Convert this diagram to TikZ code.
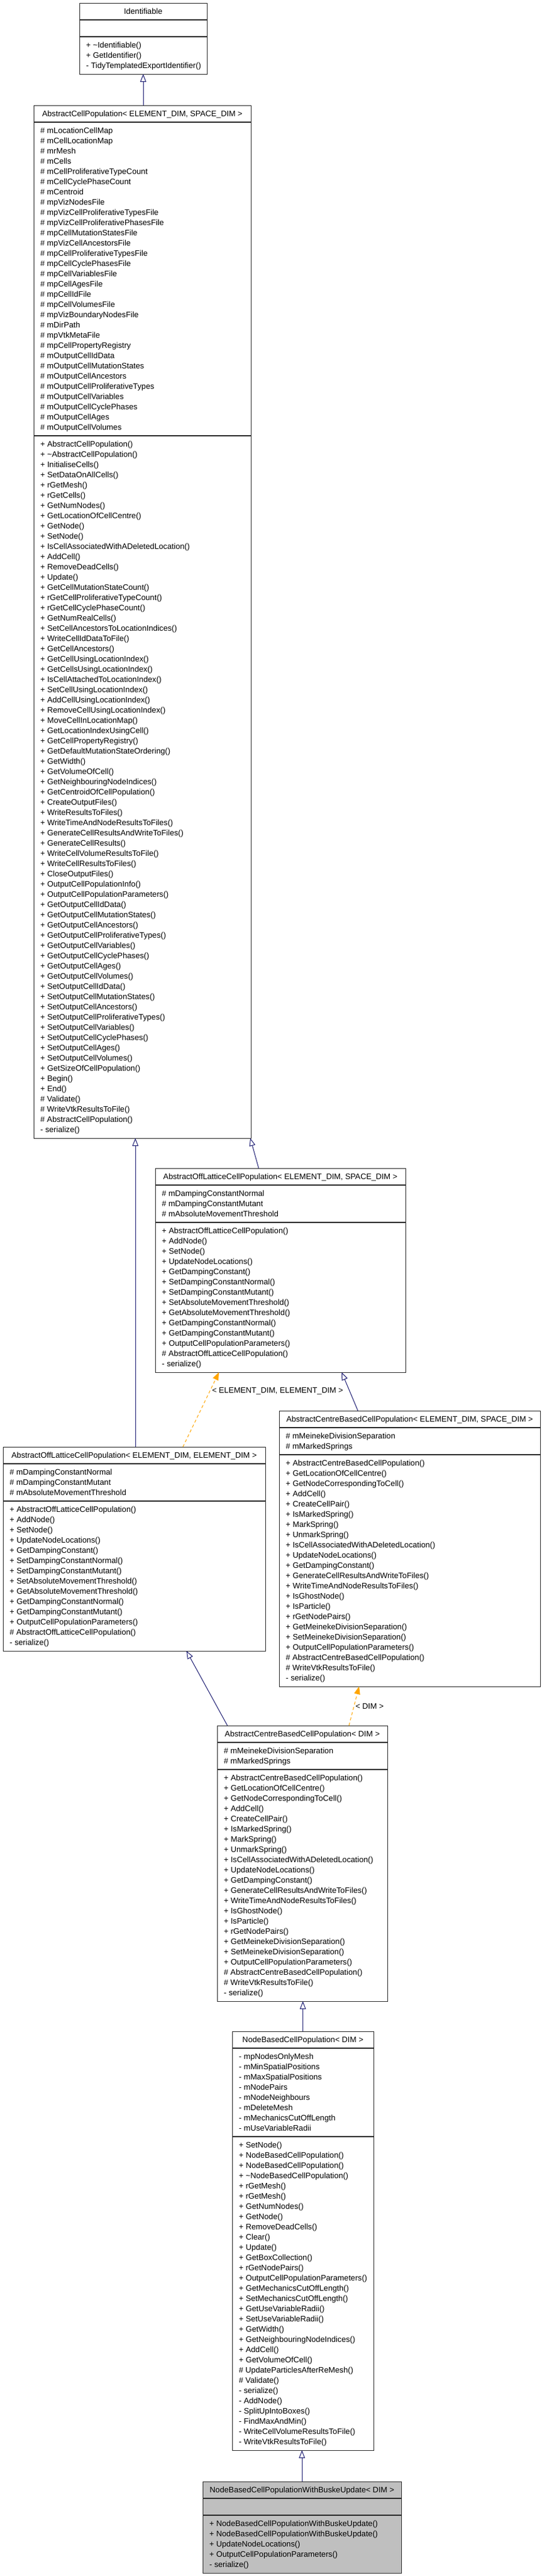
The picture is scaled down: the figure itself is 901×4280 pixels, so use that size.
\documentclass[tikz,border=0pt]{standalone}
\usepackage{fontspec}
\setmainfont{Liberation Sans}
\usetikzlibrary{arrows.meta,calc}
\definecolor{inhblue}{RGB}{25,25,112}
\definecolor{tmplorange}{RGB}{255,165,0}
\definecolor{buskegray}{RGB}{191,191,191}
\newcommand\ftxt{\fontsize{13.2}{17}\selectfont}
\tikzset{
  classbox/.style={draw=black!85, line width=1pt, fill=white, rectangle, inner sep=0pt, outer sep=0pt},
  sepline/.style={draw=black!85, line width=1.4pt},
  titletext/.style={font=\ftxt, inner sep=0pt, anchor=base},
  membertext/.style={font=\ftxt, inner sep=0pt, anchor=north west, align=left},
  inh/.style={draw=inhblue, line width=1pt, -{Triangle[open, length=13pt, width=10pt, fill=white]}},
  tmpl/.style={draw=tmplorange, line width=1pt, dash pattern=on 5pt off 4pt, -{Triangle[length=13pt, width=10pt, fill=tmplorange]}},
  edgelabel/.style={font=\ftxt, inner sep=1pt, text=black},
}
% #1 name, #2 x, #3 y, #4 width, #5 attribute lines, #6 method lines, #7 title, #8 attributes, #9 methods
\newcommand\umlclass[9]{%
  \pgfmathsetmacro\ucA{17*#5+11}%
  \pgfmathsetmacro\ucM{17*#6+11}%
  \pgfmathsetmacro\ucH{28+\ucA+\ucM}%
  \node[classbox, minimum width=#4pt, minimum height=\ucH pt, anchor=north west] (#1) at (#2,#3) {};
  \draw[sepline] ($(#1.north west)+(0,28)$) -- ($(#1.north east)+(0,28)$);
  \draw[sepline] ($(#1.north west)+(0,28+\ucA)$) -- ($(#1.north east)+(0,28+\ucA)$);
  \node[titletext] (#1-t) at ($(#1.north west)+(#4/2,18.6)$) {#7};
  \node[membertext] (#1-a) at ($(#1.north west)+(11,34.7)$) {\strut #8};
  \node[membertext] (#1-m) at ($(#1.north west)+(11,34.7+\ucA)$) {\strut #9};
}
\begin{document}
\begin{tikzpicture}[x=1pt,y=-1pt]
\useasboundingbox (0,0) rectangle (901,4280);
\fill[white] (0,0) rectangle (901,4280);

\umlclass{ident}{132}{5}{212}{1}{3}{Identifiable}{}{%
+ \textasciitilde Identifiable()\\
+ GetIdentifier()\\
- TidyTemplatedExportIdentifier()}

\umlclass{acp}{56}{175}{361}{30}{68}{AbstractCellPopulation< ELEMENT\_DIM, SPACE\_DIM >}{%
\# mLocationCellMap\\
\# mCellLocationMap\\
\# mrMesh\\
\# mCells\\
\# mCellProliferativeTypeCount\\
\# mCellCyclePhaseCount\\
\# mCentroid\\
\# mpVizNodesFile\\
\# mpVizCellProliferativeTypesFile\\
\# mpVizCellProliferativePhasesFile\\
\# mpCellMutationStatesFile\\
\# mpVizCellAncestorsFile\\
\# mpCellProliferativeTypesFile\\
\# mpCellCyclePhasesFile\\
\# mpCellVariablesFile\\
\# mpCellAgesFile\\
\# mpCellIdFile\\
\# mpCellVolumesFile\\
\# mpVizBoundaryNodesFile\\
\# mDirPath\\
\# mpVtkMetaFile\\
\# mpCellPropertyRegistry\\
\# mOutputCellIdData\\
\# mOutputCellMutationStates\\
\# mOutputCellAncestors\\
\# mOutputCellProliferativeTypes\\
\# mOutputCellVariables\\
\# mOutputCellCyclePhases\\
\# mOutputCellAges\\
\# mOutputCellVolumes}{%
+ AbstractCellPopulation()\\
+ \textasciitilde AbstractCellPopulation()\\
+ InitialiseCells()\\
+ SetDataOnAllCells()\\
+ rGetMesh()\\
+ rGetCells()\\
+ GetNumNodes()\\
+ GetLocationOfCellCentre()\\
+ GetNode()\\
+ SetNode()\\
+ IsCellAssociatedWithADeletedLocation()\\
+ AddCell()\\
+ RemoveDeadCells()\\
+ Update()\\
+ GetCellMutationStateCount()\\
+ rGetCellProliferativeTypeCount()\\
+ rGetCellCyclePhaseCount()\\
+ GetNumRealCells()\\
+ SetCellAncestorsToLocationIndices()\\
+ WriteCellIdDataToFile()\\
+ GetCellAncestors()\\
+ GetCellUsingLocationIndex()\\
+ GetCellsUsingLocationIndex()\\
+ IsCellAttachedToLocationIndex()\\
+ SetCellUsingLocationIndex()\\
+ AddCellUsingLocationIndex()\\
+ RemoveCellUsingLocationIndex()\\
+ MoveCellInLocationMap()\\
+ GetLocationIndexUsingCell()\\
+ GetCellPropertyRegistry()\\
+ GetDefaultMutationStateOrdering()\\
+ GetWidth()\\
+ GetVolumeOfCell()\\
+ GetNeighbouringNodeIndices()\\
+ GetCentroidOfCellPopulation()\\
+ CreateOutputFiles()\\
+ WriteResultsToFiles()\\
+ WriteTimeAndNodeResultsToFiles()\\
+ GenerateCellResultsAndWriteToFiles()\\
+ GenerateCellResults()\\
+ WriteCellVolumeResultsToFile()\\
+ WriteCellResultsToFiles()\\
+ CloseOutputFiles()\\
+ OutputCellPopulationInfo()\\
+ OutputCellPopulationParameters()\\
+ GetOutputCellIdData()\\
+ GetOutputCellMutationStates()\\
+ GetOutputCellAncestors()\\
+ GetOutputCellProliferativeTypes()\\
+ GetOutputCellVariables()\\
+ GetOutputCellCyclePhases()\\
+ GetOutputCellAges()\\
+ GetOutputCellVolumes()\\
+ SetOutputCellIdData()\\
+ SetOutputCellMutationStates()\\
+ SetOutputCellAncestors()\\
+ SetOutputCellProliferativeTypes()\\
+ SetOutputCellVariables()\\
+ SetOutputCellCyclePhases()\\
+ SetOutputCellAges()\\
+ SetOutputCellVolumes()\\
+ GetSizeOfCellPopulation()\\
+ Begin()\\
+ End()\\
\# Validate()\\
\# WriteVtkResultsToFile()\\
\# AbstractCellPopulation()\\
- serialize()}

\umlclass{oles}{258}{1941}{416}{3}{14}{AbstractOffLatticeCellPopulation< ELEMENT\_DIM, SPACE\_DIM >}{%
\# mDampingConstantNormal\\
\# mDampingConstantMutant\\
\# mAbsoluteMovementThreshold}{%
+ AbstractOffLatticeCellPopulation()\\
+ AddNode()\\
+ SetNode()\\
+ UpdateNodeLocations()\\
+ GetDampingConstant()\\
+ SetDampingConstantNormal()\\
+ SetDampingConstantMutant()\\
+ SetAbsoluteMovementThreshold()\\
+ GetAbsoluteMovementThreshold()\\
+ GetDampingConstantNormal()\\
+ GetDampingConstantMutant()\\
+ OutputCellPopulationParameters()\\
\# AbstractOffLatticeCellPopulation()\\
- serialize()}

\umlclass{cbes}{464}{2344}{434}{2}{22}{AbstractCentreBasedCellPopulation< ELEMENT\_DIM, SPACE\_DIM >}{%
\# mMeinekeDivisionSeparation\\
\# mMarkedSprings}{%
+ AbstractCentreBasedCellPopulation()\\
+ GetLocationOfCellCentre()\\
+ GetNodeCorrespondingToCell()\\
+ AddCell()\\
+ CreateCellPair()\\
+ IsMarkedSpring()\\
+ MarkSpring()\\
+ UnmarkSpring()\\
+ IsCellAssociatedWithADeletedLocation()\\
+ UpdateNodeLocations()\\
+ GetDampingConstant()\\
+ GenerateCellResultsAndWriteToFiles()\\
+ WriteTimeAndNodeResultsToFiles()\\
+ IsGhostNode()\\
+ IsParticle()\\
+ rGetNodePairs()\\
+ GetMeinekeDivisionSeparation()\\
+ SetMeinekeDivisionSeparation()\\
+ OutputCellPopulationParameters()\\
\# AbstractCentreBasedCellPopulation()\\
\# WriteVtkResultsToFile()\\
- serialize()}

\umlclass{olee}{5}{2404}{436}{3}{14}{AbstractOffLatticeCellPopulation< ELEMENT\_DIM, ELEMENT\_DIM >}{%
\# mDampingConstantNormal\\
\# mDampingConstantMutant\\
\# mAbsoluteMovementThreshold}{%
+ AbstractOffLatticeCellPopulation()\\
+ AddNode()\\
+ SetNode()\\
+ UpdateNodeLocations()\\
+ GetDampingConstant()\\
+ SetDampingConstantNormal()\\
+ SetDampingConstantMutant()\\
+ SetAbsoluteMovementThreshold()\\
+ GetAbsoluteMovementThreshold()\\
+ GetDampingConstantNormal()\\
+ GetDampingConstantMutant()\\
+ OutputCellPopulationParameters()\\
\# AbstractOffLatticeCellPopulation()\\
- serialize()}

\umlclass{cbd}{361}{2867}{283}{2}{22}{AbstractCentreBasedCellPopulation< DIM >}{%
\# mMeinekeDivisionSeparation\\
\# mMarkedSprings}{%
+ AbstractCentreBasedCellPopulation()\\
+ GetLocationOfCellCentre()\\
+ GetNodeCorrespondingToCell()\\
+ AddCell()\\
+ CreateCellPair()\\
+ IsMarkedSpring()\\
+ MarkSpring()\\
+ UnmarkSpring()\\
+ IsCellAssociatedWithADeletedLocation()\\
+ UpdateNodeLocations()\\
+ GetDampingConstant()\\
+ GenerateCellResultsAndWriteToFiles()\\
+ WriteTimeAndNodeResultsToFiles()\\
+ IsGhostNode()\\
+ IsParticle()\\
+ rGetNodePairs()\\
+ GetMeinekeDivisionSeparation()\\
+ SetMeinekeDivisionSeparation()\\
+ OutputCellPopulationParameters()\\
\# AbstractCentreBasedCellPopulation()\\
\# WriteVtkResultsToFile()\\
- serialize()}

\umlclass{nb}{386}{3375}{235}{8}{30}{NodeBasedCellPopulation< DIM >}{%
- mpNodesOnlyMesh\\
- mMinSpatialPositions\\
- mMaxSpatialPositions\\
- mNodePairs\\
- mNodeNeighbours\\
- mDeleteMesh\\
- mMechanicsCutOffLength\\
- mUseVariableRadii}{%
+ SetNode()\\
+ NodeBasedCellPopulation()\\
+ NodeBasedCellPopulation()\\
+ \textasciitilde NodeBasedCellPopulation()\\
+ rGetMesh()\\
+ rGetMesh()\\
+ GetNumNodes()\\
+ GetNode()\\
+ RemoveDeadCells()\\
+ Clear()\\
+ Update()\\
+ GetBoxCollection()\\
+ rGetNodePairs()\\
+ OutputCellPopulationParameters()\\
+ GetMechanicsCutOffLength()\\
+ SetMechanicsCutOffLength()\\
+ GetUseVariableRadii()\\
+ SetUseVariableRadii()\\
+ GetWidth()\\
+ GetNeighbouringNodeIndices()\\
+ AddCell()\\
+ GetVolumeOfCell()\\
\# UpdateParticlesAfterReMesh()\\
\# Validate()\\
- serialize()\\
- AddNode()\\
- SplitUpIntoBoxes()\\
- FindMaxAndMin()\\
- WriteCellVolumeResultsToFile()\\
- WriteVtkResultsToFile()}

\begin{scope}[classbox/.append style={fill=buskegray}]
\umlclass{bu}{337}{4123}{330}{1}{5}{NodeBasedCellPopulationWithBuskeUpdate< DIM >}{}{%
+ NodeBasedCellPopulationWithBuskeUpdate()\\
+ NodeBasedCellPopulationWithBuskeUpdate()\\
+ UpdateNodeLocations()\\
+ OutputCellPopulationParameters()\\
- serialize()}
\end{scope}

% connectors
\draw[inh] (acp.north -| ident.south) -- (ident.south);
\draw[inh] ($(oles.north west)+(172,0)$) -- ($(acp.south east)+(-1,0)$);
\draw[inh] ($(olee.north west)+(220,0)$) coordinate (oleetop) -- (oleetop |- acp.south);
\draw[tmpl] ($(olee.north west)+(299,0)$) -- ($(oles.south west)+(106,0)$)
  node[edgelabel, pos=0.75, anchor=west, xshift=2pt] (lab1) {< ELEMENT\_DIM, ELEMENT\_DIM >};
\draw[inh] ($(cbes.north west)+(131,0)$) -- ($(oles.south west)+(310,0)$);
\draw[inh] ($(cbd.north west)+(17,0)$) -- ($(olee.south west)+(305,0)$);
\draw[tmpl] ($(cbd.north west)+(219,0)$) -- ($(cbes.south west)+(133,0)$)
  node[edgelabel, pos=0.5, anchor=west, xshift=1pt] (lab2) {< DIM >};
\draw[inh] (nb.north) -- (nb.north |- cbd.south);
\draw[inh] (bu.north) -- (bu.north |- nb.south);
\end{tikzpicture}
\end{document}
